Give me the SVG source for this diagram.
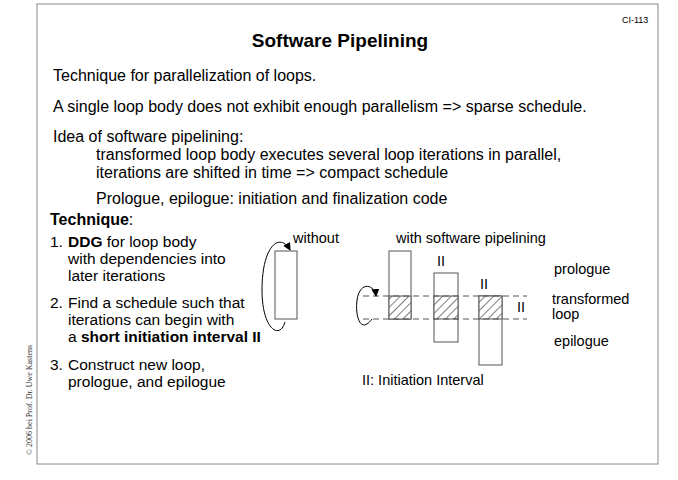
<svg xmlns="http://www.w3.org/2000/svg" width="678" height="480" viewBox="0 0 678 480">
<style>
text{font-family:"Liberation Sans",Arial,sans-serif;font-size:16px;fill:#000}
.s{font-size:14.5px}
.l{font-size:15.5px}
.b{fill:none;stroke:#000;stroke-width:1}
.g{fill:#fff;stroke:#555;stroke-width:1}
.d{stroke:#555;stroke-dasharray:6,4;fill:none}
</style>
<defs>
<pattern id="h" width="6" height="6" patternUnits="userSpaceOnUse" patternTransform="rotate(45)"><rect width="6" height="6" fill="#fff"/><line x1="0" y1="0" x2="0" y2="6" stroke="#000" stroke-width="1"/></pattern>
<marker id="a" markerWidth="8" markerHeight="8" refX="7" refY="4" orient="auto"><path d="M0,0L8,4L0,8z" fill="#000"/></marker>
</defs>
<rect x="37" y="4" width="621" height="460" fill="none" stroke="#888"/>
<text x="622" y="23" style="font-size:9px">CI-113</text>
<text x="340" y="47" text-anchor="middle" style="font-size:19px;font-weight:bold">Software Pipelining</text>
<text x="53" y="81">Technique for parallelization of loops.</text>
<text x="53" y="112">A single loop body does not exhibit enough parallelism =&gt; sparse schedule.</text>
<text x="53" y="142">Idea of software pipelining:</text>
<text x="96" y="160">transformed loop body executes several loop iterations in parallel,</text>
<text x="96" y="178">iterations are shifted in time =&gt; compact schedule</text>
<text x="96" y="204">Prologue, epilogue: initiation and finalization code</text>
<text x="50" y="225"><tspan style="font-weight:bold">Technique</tspan>:</text>
<text class="l" x="50" y="247">1.</text><text class="l" x="68" y="247"><tspan style="font-weight:bold">DDG</tspan> for loop body</text>
<text class="l" x="68" y="264">with dependencies into</text>
<text class="l" x="68" y="281">later iterations</text>
<text class="l" x="50" y="308">2.</text><text class="l" x="68" y="308">Find a schedule such that</text>
<text class="l" x="68" y="325">iterations can begin with</text>
<text class="l" x="68" y="342">a <tspan style="font-weight:bold">short initiation interval II</tspan></text>
<text class="l" x="50" y="370">3.</text><text class="l" x="68" y="370">Construct new loop,</text>
<text class="l" x="68" y="387">prologue, and epilogue</text>
<text transform="translate(32,455) rotate(-90)" style="font-family:'Liberation Serif',serif;font-size:8px;fill:#333">© 2006 bei Prof. Dr. Uwe Kastens</text>
<g id="without">
<rect class="g" x="275" y="251" width="22" height="68"/>
<text class="s" x="293" y="243">without</text>
</g>
<g id="pipelined">
<text class="s" x="396" y="243">with software pipelining</text>
<rect class="g" x="389" y="251" width="22" height="68"/>
<rect class="g" x="434" y="273" width="24" height="69"/>
<rect class="g" x="479" y="296" width="23" height="69"/>
<rect x="389" y="296" width="22" height="23" fill="url(#h)" stroke="#555"/>
<rect x="434" y="296" width="24" height="23" fill="url(#h)" stroke="#555"/>
<rect x="479" y="296" width="23" height="23" fill="url(#h)" stroke="#555"/>
<text class="s" x="437" y="266">II</text>
<text class="s" x="480" y="289">II</text>
<text class="s" x="517" y="312">II</text>
<text class="s" x="554" y="274">prologue</text>
<text class="s" x="552" y="304">transformed</text>
<text class="s" x="552" y="319">loop</text>
<text class="s" x="554" y="346">epilogue</text>
<text class="s" x="362" y="385">II: Initiation Interval</text>
</g>
<g id="connectors">
<line class="d" x1="363" y1="296" x2="527" y2="296"/>
<line class="d" x1="363" y1="319" x2="527" y2="319"/>
<path class="b" d="M285,322 C280,340 262,330 262,290 C262,245 280,232 290,250" marker-end="url(#a)"/>
<path class="b" d="M372,319 C360,335 355,315 357,300 C360,280 375,285 376,296" marker-end="url(#a)"/>
</g>
</svg>
